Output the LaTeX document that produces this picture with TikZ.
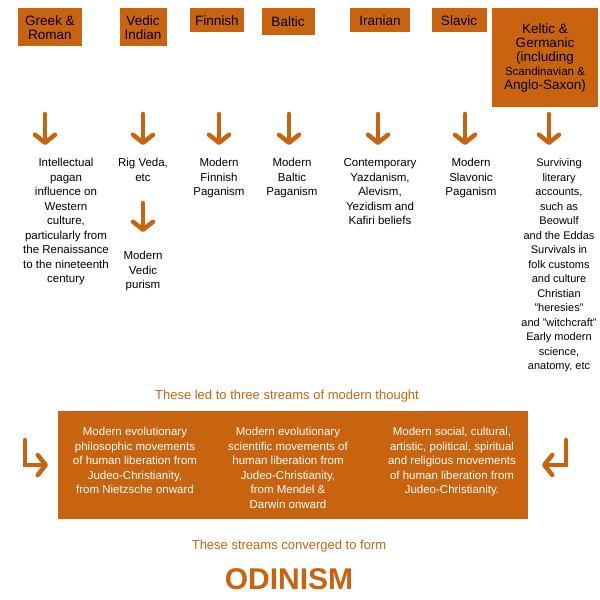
\documentclass[tikz,border=0pt]{standalone}
\usepackage{fontspec}
\setmainfont{Liberation Sans}
\usetikzlibrary{arrows.meta}
\definecolor{rust}{RGB}{200,100,15}

\begin{document}
\begin{tikzpicture}[x=1pt,y=-1pt,
    src/.style={fill=rust, text=black, font=\fontsize{13.5}{14}\selectfont,
        align=center, inner sep=2pt, anchor=north},
    txt/.style={align=center, anchor=north, font=\fontsize{11.5}{14.5}\selectfont},
    down/.style={draw=rust, line width=4.5pt, line cap=round,
        -{Straight Barb[length=8pt,width=20pt,line width=4.5pt,round]}},
    say/.style={text=rust, font=\fontsize{13}{15}\selectfont}]
    \useasboundingbox (0,0) rectangle (600,600);

    % the seven sources
    \node[src, minimum width=64pt, minimum height=38pt] (greek) at (50,8) {Greek \&\\Roman};
    \node[src, minimum width=47pt, minimum height=38pt] (vedic) at (143,8) {Vedic\\Indian};
    \node[src, minimum width=54pt, minimum height=24pt] (finn) at (217,8) {Finnish};
    \node[src, minimum width=53pt, minimum height=27pt] (balt) at (288,8) {Baltic};
    \node[src, minimum width=60pt, minimum height=24pt] (iran) at (380,8) {Iranian};
    \node[src, minimum width=55pt, minimum height=24pt] (slav) at (459,8) {Slavic};
    \node[src, minimum width=106pt, minimum height=99pt] (kelt) at (545,8)
        {Keltic \&\\Germanic\\(including\\\fontsize{11.5}{14}\selectfont Scandinavian \&\\Anglo-Saxon)};

    % what came of them
    \node[txt] (greekT) at (66,155) {Intellectual\\pagan\\influence on\\Western\\culture,\\particularly from\\the Renaissance\\to the nineteenth\\century};
    \node[txt] (rig) at (143,155) {Rig Veda,\\etc};
    \node[txt] (purism) at (143,248) {Modern\\Vedic\\purism};
    \node[txt] (finnT) at (219,155) {Modern\\Finnish\\Paganism};
    \node[txt] (baltT) at (292,155) {Modern\\Baltic\\Paganism};
    \node[txt] (iranT) at (380,155) {Contemporary\\Yazdanism,\\Alevism,\\Yezidism and\\Kafiri beliefs};
    \node[txt] (slavT) at (471,155) {Modern\\Slavonic\\Paganism};
    \node[txt, font=\fontsize{11}{14.5}\selectfont] (keltT) at (559,155) {Surviving\\literary\\accounts,\\such as\\Beowulf\\and the Eddas\\Survivals in\\folk customs\\and culture\\Christian\\"heresies"\\and "witchcraft"\\Early modern\\science,\\anatomy, etc};

    \foreach \x in {45,143,219,289,378,465,549}
        \draw[down] (\x,114) -- (\x,145);
    \draw[down] (143,203) -- (143,232);

    \node[say] (led) at (287,396) {These led to three streams of modern thought};

    % the three streams
    \fill[rust] (58,411) rectangle (528,519);
    \node[txt, text=white] (philo) at (135,424) {Modern evolutionary\\philosophic movements\\of human liberation from\\Judeo-Christianity,\\from Nietzsche onward};
    \node[txt, text=white] (sci) at (288,424) {Modern evolutionary\\scientific movements of\\human liberation from\\Judeo-Christianity,\\from Mendel \&\\Darwin onward};
    \node[txt, text=white] (soc) at (452,424) {Modern social, cultural,\\artistic, political, spiritual\\and religious movements\\of human liberation from\\Judeo-Christianity.};

    \draw[down] (25,440) |- (48,465);
    \draw[down] (566,440) |- (542,465);

    \node[say] (conv) at (289,546) {These streams converged to form};
    \node[text=rust, font=\fontsize{30}{32}\bfseries\selectfont] (odin) at (289,579) {ODINISM};
\end{tikzpicture}
\end{document}
